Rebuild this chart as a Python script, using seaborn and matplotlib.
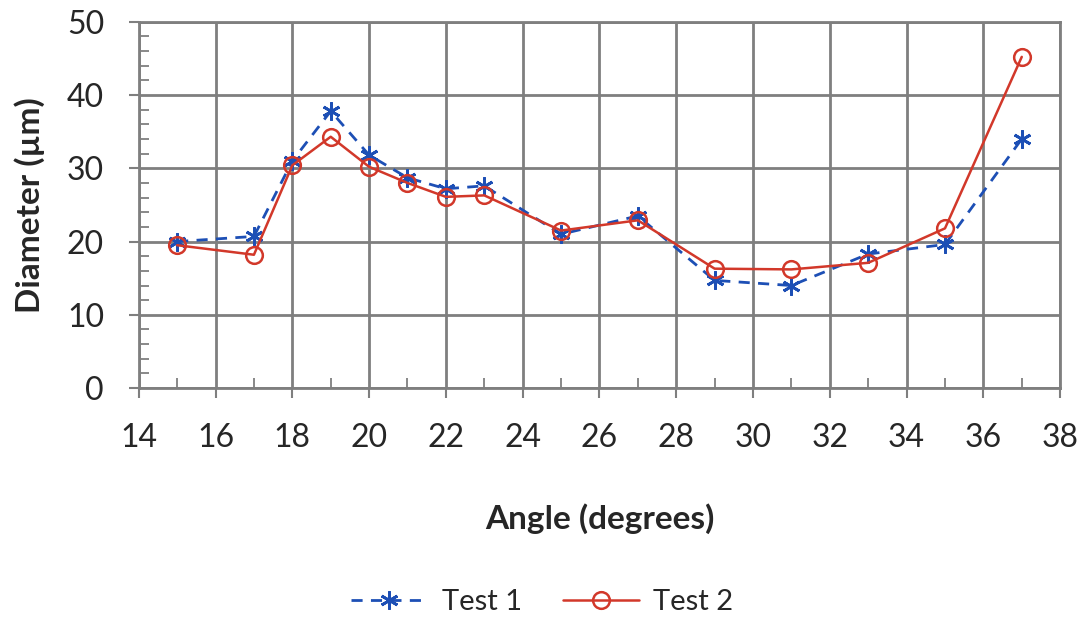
import pandas as pd
import matplotlib.pyplot as plt
import seaborn as sns
from matplotlib.ticker import MultipleLocator

# Data
angle = [15, 17, 18, 19, 20, 21, 22, 23, 25, 27, 29, 31, 33, 35, 37]
test1 = [20.0, 20.7, 31.0, 37.8, 31.8, 28.7, 27.2, 27.6, 21.0, 23.5, 14.7, 14.0, 18.3, 19.6, 34.0]
test2 = [19.5, 18.2, 30.4, 34.3, 30.2, 28.0, 26.1, 26.3, 21.5, 22.9, 16.3, 16.2, 17.1, 21.8, 45.2]

df = pd.DataFrame({"angle": angle, "Test 1": test1, "Test 2": test2})

sns.set_style("white")
plt.rcParams["font.family"] = ["Lato", "DejaVu Sans"]

fig = plt.figure(figsize=(10.84, 6.2), dpi=100)
ax = fig.add_axes([0.128, 0.374, 0.85, 0.591])

grid_col = "#7f7f7f"
blue = "#1d4fb5"
red = "#d2382a"

sns.lineplot(data=df, x="angle", y="Test 1", ax=ax, color=blue, linestyle=(0, (4, 3)),
             linewidth=2, marker=(6, 2, 0), markersize=13, markeredgewidth=2,
             markeredgecolor=blue, label="Test 1")
sns.lineplot(data=df, x="angle", y="Test 2", ax=ax, color=red, linewidth=1.8,
             marker="o", markersize=12, markerfacecolor="none", markeredgewidth=1.8,
             markeredgecolor=red, label="Test 2")

ax.set_xlim(14, 38)
ax.set_ylim(0, 50)
ax.xaxis.set_major_locator(MultipleLocator(2))
ax.xaxis.set_minor_locator(MultipleLocator(1))
ax.yaxis.set_major_locator(MultipleLocator(10))
ax.yaxis.set_minor_locator(MultipleLocator(2))
ax.grid(True, which="major", color=grid_col, linewidth=2)
for s in ax.spines.values():
    s.set_color(grid_col)
    s.set_linewidth(2)
ax.tick_params(which="both", left=True, bottom=True)
ax.tick_params(which="major", direction="out", length=7, width=1.5, color=grid_col,
               labelsize=23, pad=18)
ax.tick_params(which="minor", direction="in", length=7, width=1.3, color=grid_col)

ax.set_xlabel("Angle (degrees)", fontsize=24, fontweight="bold", labelpad=36)
ax.set_ylabel("Diameter (µm)", fontsize=24, fontweight="bold", labelpad=16)

ax.legend(loc="center", bbox_to_anchor=(0.438, -0.585), ncol=2, frameon=False,
          fontsize=21, handlelength=2.6, columnspacing=1.4, handletextpad=0.5)

fig.savefig("out.png", dpi=100)
